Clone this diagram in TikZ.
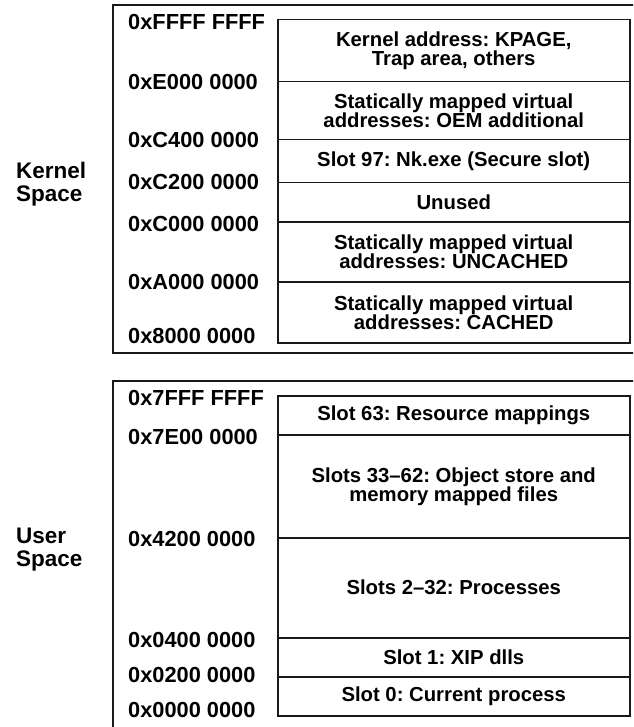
\documentclass[tikz,border=0pt]{standalone}
\usepackage{fontspec}
\setmainfont{Liberation Sans}
\frenchspacing
\begin{document}
\begin{tikzpicture}[x=1pt,y=-1pt,
  frame/.style={draw=black!90, line width=1.5pt},
  region/.style={draw=black!90, line width=1.5pt, rectangle, anchor=north west,
    minimum width=352pt, inner sep=0pt, align=center,
    font=\fontsize{20.3}{19}\selectfont\bfseries\frenchspacing},
  addr/.style={anchor=west, inner sep=0pt, font=\fontsize{21.8}{23}\selectfont\bfseries},
  side/.style={anchor=west, inner sep=0pt, align=left, font=\fontsize{22.5}{23}\selectfont\bfseries}
]
\useasboundingbox (0,0) rectangle (633,727);
\clip (0,0) rectangle (633,727);
\fill[white] (0,0) rectangle (633,727);

% outer frames
\draw[frame] (113,5) rectangle (645,353);
\draw[frame] (113,381) rectangle (645,745);

% side labels
\node[side] (kspace) at (16,184) {Kernel\\Space};
\node[side] (uspace) at (16,550) {User\\Space};

% kernel regions
\node[region, minimum height=62pt] (k1) at (277,19) {Kernel address: KPAGE,\\Trap area, others};
\node[region, minimum height=58pt] (k2) at (277,81) {Statically mapped virtual\\addresses: OEM additional};
\node[region, minimum height=43pt] (k3) at (277,139) {Slot 97: Nk.exe (Secure slot)};
\node[region, minimum height=39pt] (k4) at (277,182) {Unused};
\node[region, minimum height=60pt] (k5) at (277,221) {Statically mapped virtual\\addresses: UNCACHED};
\node[region, minimum height=61pt] (k6) at (277,281) {Statically mapped virtual\\addresses: CACHED};

% user regions
\node[region, minimum height=39pt] (u1) at (277,395) {Slot 63: Resource mappings};
\node[region, minimum height=103pt] (u2) at (277,434) {Slots 33--62: Object store and\\memory mapped files};
\node[region, minimum height=100pt] (u3) at (277,537) {Slots 2--32: Processes};
\node[region, minimum height=39pt] (u4) at (277,637) {Slot 1: XIP dlls};
\node[region, minimum height=39pt] (u5) at (277,676) {Slot 0: Current process};

% kernel addresses
\node[addr] (a1) at (128,22) {0xFFFF FFFF};
\node[addr] (a2) at (128,82) {0xE000 0000};
\node[addr] (a3) at (128,140) {0xC400 0000};
\node[addr] (a4) at (128,182) {0xC200 0000};
\node[addr] (a5) at (128,224) {0xC000 0000};
\node[addr] (a6) at (128,282) {0xA000 0000};
\node[addr] (a7) at (128,336) {0x8000 0000};

% user addresses
\node[addr] (b1) at (128,398) {0x7FFF FFFF};
\node[addr] (b2) at (128,437) {0x7E00 0000};
\node[addr] (b3) at (128,539) {0x4200 0000};
\node[addr] (b4) at (128,640) {0x0400 0000};
\node[addr] (b5) at (128,675) {0x0200 0000};
\node[addr] (b6) at (128,710) {0x0000 0000};
\end{tikzpicture}
\end{document}
